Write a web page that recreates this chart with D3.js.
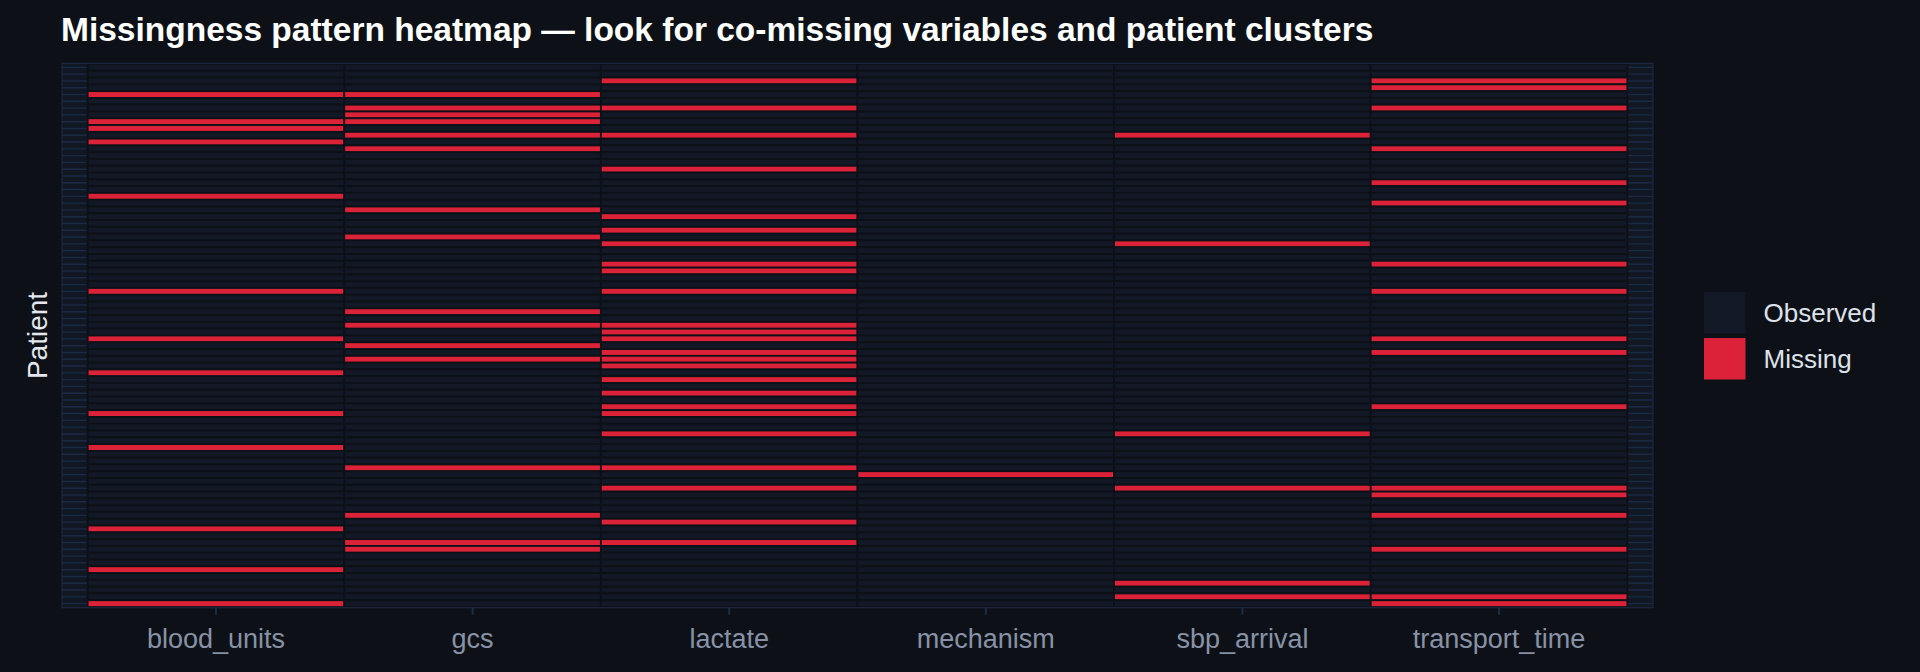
<!DOCTYPE html>
<html>
<head>
<meta charset="utf-8">
<script src="https://cdn.jsdelivr.net/npm/d3@7/dist/d3.min.js"></script>
<style>
  html, body { margin: 0; padding: 0; background: #0d1117; }
  svg { display: block; font-family: "Liberation Sans", Arial, Helvetica, sans-serif; }
</style>
</head>
<body>
<svg id="chart" width="1920" height="672"></svg>
<script>
// ---- Data ----
const variables = ["blood_units", "gcs", "lactate", "mechanism", "sbp_arrival", "transport_time"];
const patients = d3.range(1, 81); // 80 patients, top to bottom
const statusLevels = ["Observed", "Missing"];

// Row positions (0 = top patient) where each variable is missing
const bloodUnitsMissing   = [4, 8, 9, 11, 19, 33, 40, 45, 51, 56, 68, 74, 79];
const gcsMissing          = [4, 6, 7, 8, 10, 12, 21, 25, 36, 38, 41, 43, 59, 66, 70, 71];
const lactateMissing      = [2, 6, 10, 15, 22, 24, 26, 29, 30, 33, 38, 39, 40, 42, 43, 44, 46, 48, 50, 51, 54, 59, 62, 67, 70];
const mechanismMissing    = [60];
const sbpArrivalMissing   = [10, 26, 54, 62, 76, 78];
const transportTimeMissing = [2, 3, 6, 12, 17, 20, 29, 33, 40, 42, 50, 62, 63, 66, 71, 78, 79];

const missingByVar = [bloodUnitsMissing, gcsMissing, lactateMissing, mechanismMissing, sbpArrivalMissing, transportTimeMissing];

const cells = [];
variables.forEach((v, vi) => {
  const miss = new Set(missingByVar[vi]);
  patients.forEach((p, pi) => {
    cells.push({ variable: v, patient: p, status: miss.has(pi) ? "Missing" : "Observed" });
  });
});

// ---- Layout ----
const svg = d3.select("#chart");
const W = 1920, H = 672;
const panel = { left: 62, right: 1653, top: 63.3, bottom: 607.7 };
const bg = "#0d1117";

svg.append("rect").attr("width", W).attr("height", H).attr("fill", bg);

const x = d3.scaleBand().domain(variables).range([panel.left, panel.right]).paddingInner(0).paddingOuter(0.1);
const y = d3.scaleBand().domain(patients).range([panel.top, panel.bottom]).paddingInner(0).paddingOuter(0.1);
const color = d3.scaleOrdinal().domain(statusLevels).range(["#121826", "#dc2238"]);

// panel background
svg.append("rect")
  .attr("x", panel.left).attr("y", panel.top)
  .attr("width", panel.right - panel.left).attr("height", panel.bottom - panel.top)
  .attr("fill", "#111723");

// gridlines
const grid = svg.append("g");
grid.selectAll("line.h").data(patients).join("line")
  .attr("x1", panel.left).attr("x2", panel.right)
  .attr("y1", d => y(d) + y.bandwidth() / 2).attr("y2", d => y(d) + y.bandwidth() / 2)
  .attr("stroke", "#1a2a45").attr("stroke-width", 1.4);
grid.selectAll("line.v").data(variables).join("line")
  .attr("y1", panel.top).attr("y2", panel.bottom)
  .attr("x1", d => x(d) + x.bandwidth() / 2).attr("x2", d => x(d) + x.bandwidth() / 2)
  .attr("stroke", "#1a2a45").attr("stroke-width", 1.4);

// tiles
svg.append("g").selectAll("rect").data(cells).join("rect")
  .attr("x", d => x(d.variable))
  .attr("y", d => y(d.patient))
  .attr("width", x.bandwidth())
  .attr("height", y.bandwidth())
  .attr("fill", d => color(d.status))
  .attr("stroke", bg)
  .attr("stroke-width", 1.8);

// panel border
svg.append("rect")
  .attr("x", panel.left).attr("y", panel.top)
  .attr("width", panel.right - panel.left).attr("height", panel.bottom - panel.top)
  .attr("fill", "none").attr("stroke", "#1c2940").attr("stroke-width", 1.2);

// x axis
const xAxis = svg.append("g")
  .attr("transform", `translate(0,${panel.bottom})`)
  .call(d3.axisBottom(x).tickSize(7).tickPadding(14));
xAxis.select(".domain").remove();
xAxis.selectAll(".tick line").attr("stroke", "#1c2d4a").attr("stroke-width", 2);
xAxis.selectAll(".tick text")
  .attr("fill", "#8892a6")
  .style("font-size", "27px")
  .style("font-family", "'Liberation Sans', Arial, sans-serif");

// y axis title
svg.append("text")
  .attr("transform", `translate(37,${(panel.top + panel.bottom) / 2}) rotate(-90)`)
  .attr("text-anchor", "middle")
  .attr("dominant-baseline", "central")
  .attr("fill", "#e3e6ec")
  .style("font-size", "28px")
  .text("Patient");

// title
svg.append("text")
  .attr("x", 61).attr("y", 41)
  .attr("fill", "#ffffff")
  .style("font-size", "33.5px")
  .style("font-weight", "bold")
  .text("Missingness pattern heatmap — look for co-missing variables and patient clusters");

// legend
const legend = svg.append("g").attr("transform", "translate(1704,292)");
const key = 41.5, gap = 4.5;
statusLevels.forEach((s, i) => {
  const g = legend.append("g").attr("transform", `translate(0,${i * (key + gap)})`);
  g.append("rect").attr("width", key).attr("height", key).attr("fill", color(s));
  g.append("text")
    .attr("x", key + 18).attr("y", key / 2)
    .attr("dominant-baseline", "central")
    .attr("fill", "#dde2ea")
    .style("font-size", "26px")
    .text(s);
});
</script>
</body>
</html>
